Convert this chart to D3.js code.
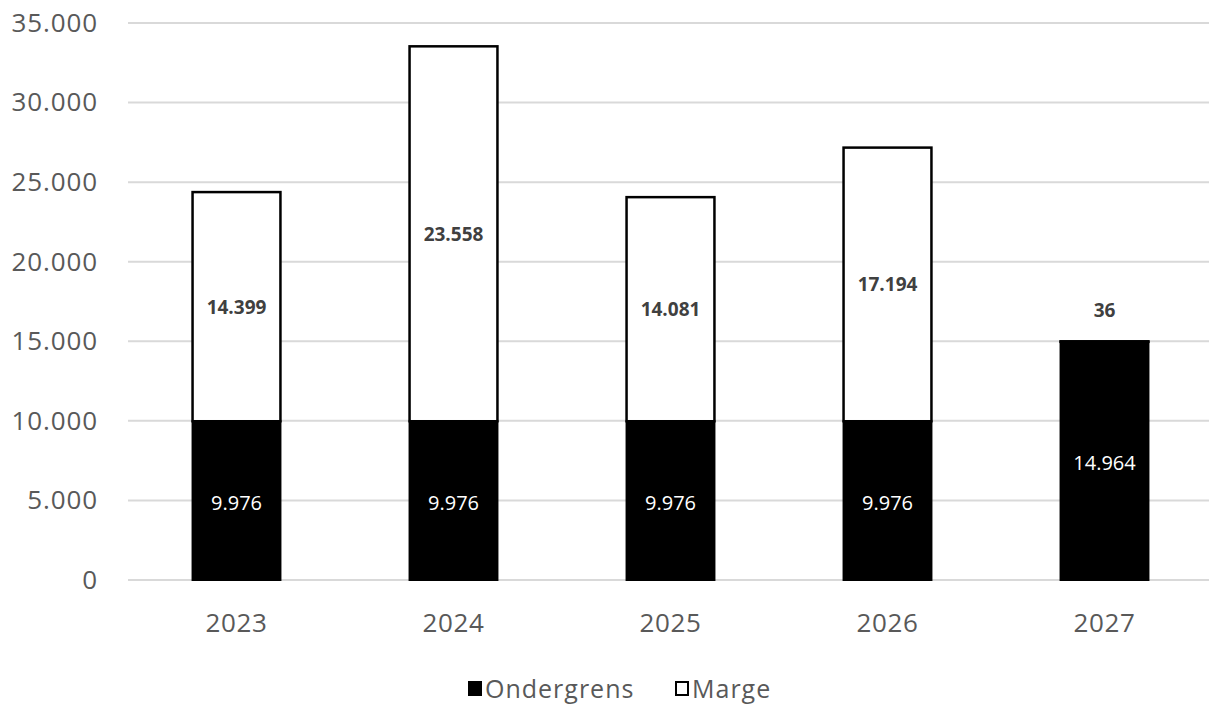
<!DOCTYPE html>
<html><head><meta charset="utf-8">
<script src="https://cdn.jsdelivr.net/npm/d3@7"></script>
<style>
html,body{margin:0;padding:0;background:#fff;}
svg{display:block;font-family:"Open Sans",sans-serif;}
</style></head>
<body><svg id="c" width="1209" height="707"></svg>
<script>
const categories = ["2023","2024","2025","2026","2027"];
const ondergrens = [9976, 9976, 9976, 9976, 14964];
const marge = [14399, 23558, 14081, 17194, 36];
const seriesNames = ["Ondergrens","Marge"];
const yTicks = [0,5000,10000,15000,20000,25000,30000,35000];

const fmt = v => d3.format(",")(v).replace(/,/g,".");
const svg = d3.select("#c");
const pLeft = 128, pRight = 1213, pTop = 23, pBottom = 580;

const x = d3.scaleBand().domain(categories).range([pLeft,pRight]).paddingInner(0.595).paddingOuter(0.2975);
const y = d3.scaleLinear().domain([0,35000]).range([pBottom,pTop]);

// gridlines
svg.append("g").selectAll("line").data(yTicks).join("line")
  .attr("x1",pLeft).attr("x2",1209)
  .attr("y1",d=>y(d)).attr("y2",d=>y(d))
  .attr("stroke","#d9d9d9").attr("stroke-width",2);

// y axis labels
const yAxis = d3.axisLeft(y).tickValues(yTicks).tickFormat(fmt).tickSize(0).tickPadding(0);
const ya = svg.append("g").attr("transform",`translate(98,0)`).call(yAxis);
ya.select(".domain").remove();
ya.selectAll("text").attr("font-size",26).attr("fill","#595959")
  .attr("font-family","'Open Sans',sans-serif").attr("letter-spacing","0.9px");

// x axis labels
const xAxis = d3.axisBottom(x).tickSize(0).tickPadding(0);
const xa = svg.append("g").attr("transform",`translate(0,614)`).call(xAxis);
xa.select(".domain").remove();
xa.selectAll("text").attr("font-size",26).attr("fill","#595959")
  .attr("font-family","'Open Sans',sans-serif").attr("letter-spacing","0.6px");

const data = categories.map((c,i)=>({c, o:ondergrens[i], m:marge[i]}));

// bars
const g = svg.append("g");
g.selectAll("rect.o").data(data).join("rect").attr("class","o")
  .attr("x",d=>x(d.c)).attr("width",x.bandwidth())
  .attr("y",d=>y(d.o)).attr("height",d=>y(0)-y(d.o))
  .attr("fill","#000").attr("stroke","#000").attr("stroke-width",2);
g.selectAll("rect.m").data(data).join("rect").attr("class","m")
  .attr("x",d=>x(d.c)).attr("width",x.bandwidth())
  .attr("y",d=>y(d.o+d.m)).attr("height",d=>y(d.o)-y(d.o+d.m))
  .attr("fill","#fff").attr("stroke","#000").attr("stroke-width",2.5);

// labels
g.selectAll("text.o").data(data).join("text").attr("class","o")
  .attr("x",d=>x(d.c)+x.bandwidth()/2).attr("y",d=>y(d.o/2)+2)
  .attr("text-anchor","middle").attr("dominant-baseline","central")
  .attr("font-size",20).attr("fill","#fff").text(d=>fmt(d.o));
g.selectAll("text.m").data(data).join("text").attr("class","m")
  .attr("x",d=>x(d.c)+x.bandwidth()/2)
  .attr("y",d=> (y(d.o)-y(d.o+d.m) < 30) ? y(d.o+d.m)-31 : y(d.o+d.m/2))
  .attr("text-anchor","middle").attr("dominant-baseline","central")
  .attr("font-size",19).attr("font-weight","bold").attr("fill","#404040").text(d=>fmt(d.m));

// legend
const lg = svg.append("g").attr("transform","translate(0,688)");
const items = [{n:seriesNames[0],fill:"#000"},{n:seriesNames[1],fill:"#fff"}];
const lx = [468, 675];
items.forEach((it,i)=>{
  lg.append("rect").attr("x",lx[i]+1).attr("y",-6).attr("width",12).attr("height",13)
    .attr("fill",it.fill).attr("stroke","#000").attr("stroke-width",2);
  lg.append("text").attr("x",lx[i]+17).attr("y",0).attr("dominant-baseline","central")
    .attr("font-size",25).attr("fill","#595959").attr("letter-spacing","1px").text(it.n);
});
</script></body></html>
